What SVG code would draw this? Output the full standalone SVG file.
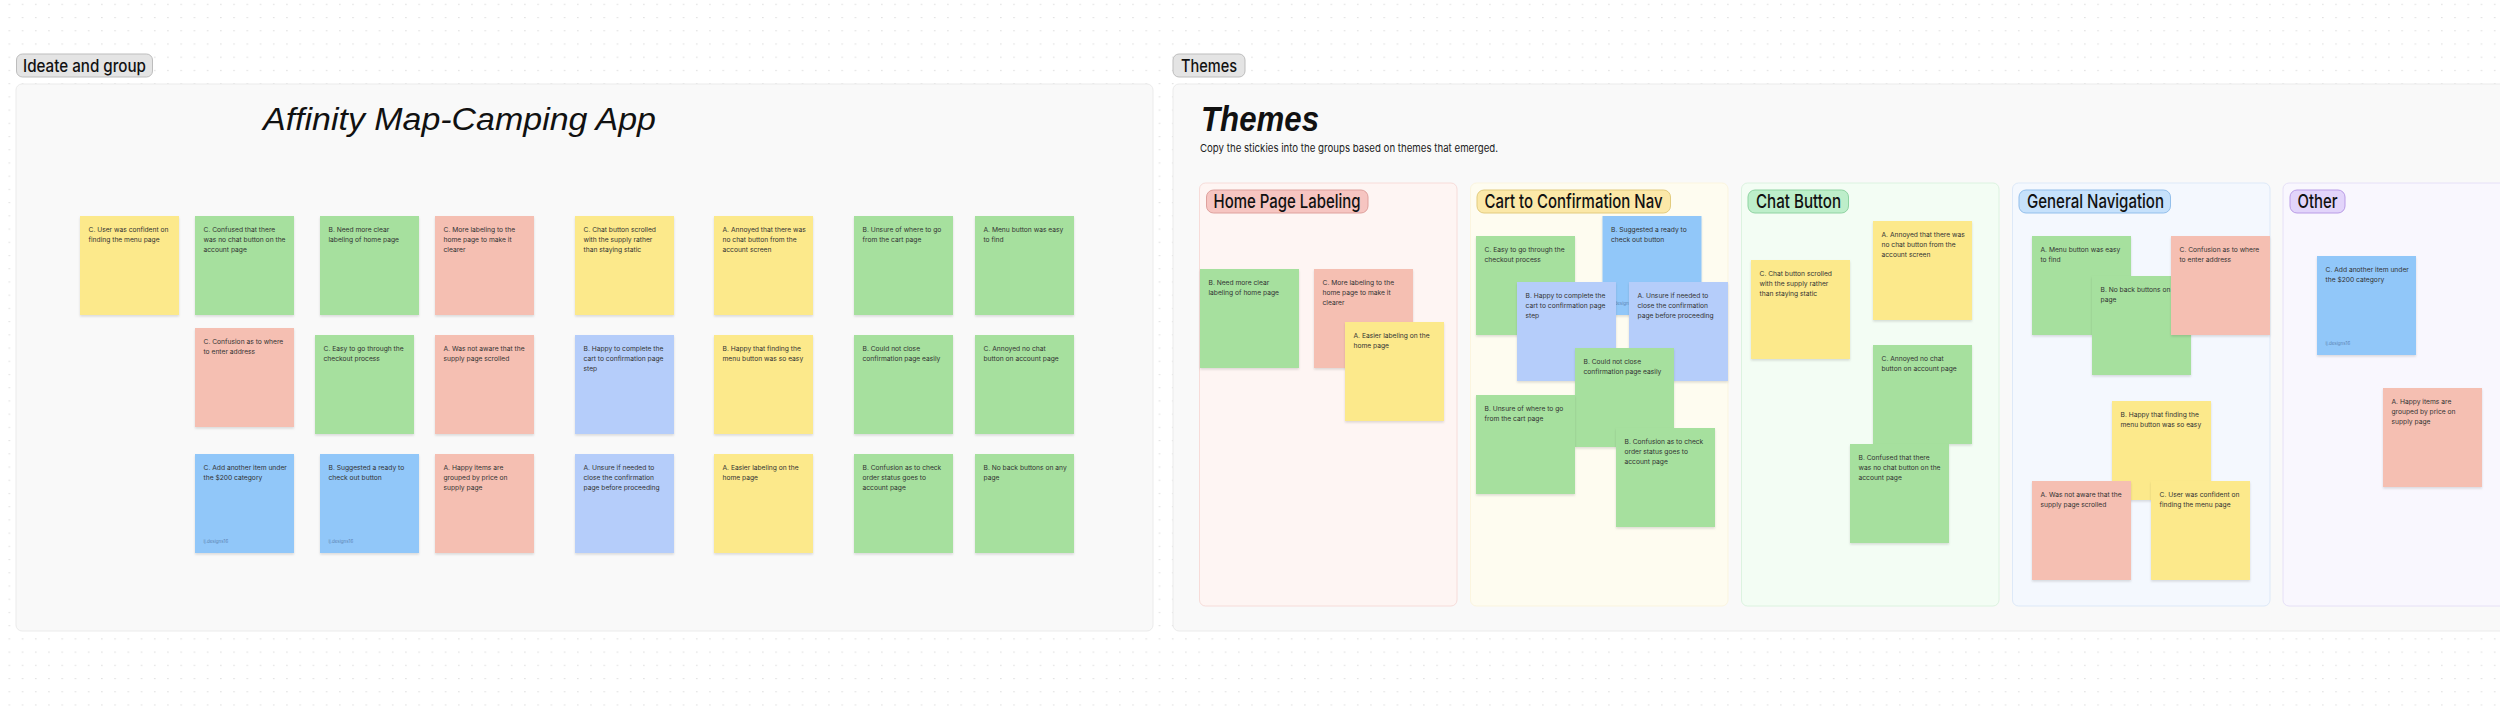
<svg xmlns="http://www.w3.org/2000/svg" width="2500" height="706" viewBox="0 0 2500 706">
<defs>
<pattern id="dots" width="13.22" height="13.22" patternUnits="userSpaceOnUse"><rect x="8.8" y="3.8" width="1.1" height="1.1" fill="#d2d2d2"/></pattern>
<filter id="sh" x="-10%" y="-10%" width="130%" height="130%"><feDropShadow dx="0" dy="1.5" stdDeviation="1.2" flood-color="#000" flood-opacity="0.13"/></filter>
<style>
.s{filter:url(#sh)}
.y{fill:#fce98b}.g{fill:#a6e09e}.r{fill:#f5bfb2}.b{fill:#91c7f9}.lb{fill:#b5cdfa}
.t{font-family:Inter,"Noto Sans",sans-serif;font-size:6.7px;fill:#333333}
.sig{font-family:Inter,"Noto Sans",sans-serif;font-size:4.5px;fill:#5d84b3}
.frame{fill:#f9f9f9;stroke:#ebebeb;stroke-width:1}
.tag{fill:#e4e4e4;stroke:#bdbdbd;stroke-width:1}
.tagt{font-family:Inter,"Noto Sans",sans-serif;font-size:17px;font-weight:500;fill:#111}
.lbl{font-family:Inter,"Noto Sans",sans-serif;font-size:19px;font-weight:500;fill:#111}
.hand{font-family:"Liberation Sans",sans-serif;font-style:italic;fill:#111}
.sub{font-family:Inter,"Noto Sans",sans-serif;font-size:11px;fill:#222}
</style>
</defs>
<rect width="2500" height="706" fill="#ffffff"/>
<rect width="2500" height="706" fill="url(#dots)"/>

<g id="section-ideate">
<rect class="tag" x="16.5" y="54" width="136" height="23" rx="6"/>
<text class="tagt" x="23" y="72" textLength="123" lengthAdjust="spacingAndGlyphs">Ideate and group</text>
<rect class="frame" x="16" y="84" width="1137" height="547" rx="6"/>
<text class="hand" x="263" y="130" font-size="31" textLength="393" lengthAdjust="spacingAndGlyphs">Affinity Map-Camping App</text>
</g>

<g id="section-themes">
<rect class="tag" x="1173" y="54" width="72" height="23" rx="6"/>
<text class="tagt" x="1181" y="71.5" textLength="56" lengthAdjust="spacingAndGlyphs">Themes</text>
<rect class="frame" x="1173" y="84" width="1360" height="547" rx="6"/>
<text class="hand" x="1201" y="131" font-size="35" font-weight="bold" textLength="118" lengthAdjust="spacingAndGlyphs">Themes</text>
<text class="sub" x="1200" y="152" textLength="298" lengthAdjust="spacingAndGlyphs">Copy the stickies into the groups based on themes that emerged.</text>
</g>

<g id="col-home">
<rect x="1199.5" y="183" width="257.5" height="423" rx="6" fill="#fef5f3" stroke="#f7dcd9"/>
<rect x="1206.5" y="190" width="161.5" height="23" rx="7" fill="#f6c5c1" stroke="#dea19d"/>
<text class="lbl" x="1213.5" y="208" textLength="147" lengthAdjust="spacingAndGlyphs">Home Page Labeling</text>
</g>
<g id="col-cart">
<rect x="1470.5" y="183" width="257.5" height="423" rx="6" fill="#fefcf0" stroke="#fbf5df"/>
<rect x="1477" y="190" width="193.5" height="23" rx="7" fill="#fbe8a8" stroke="#e2cb7e"/>
<text class="lbl" x="1484.5" y="208" textLength="178" lengthAdjust="spacingAndGlyphs">Cart to Confirmation Nav</text>
</g>
<g id="col-chat">
<rect x="1741.5" y="183" width="257.5" height="423" rx="6" fill="#f3fdf4" stroke="#dcf3e0"/>
<rect x="1748" y="190" width="100.5" height="23" rx="7" fill="#bdeeca" stroke="#8fd3a2"/>
<text class="lbl" x="1756" y="208" textLength="85" lengthAdjust="spacingAndGlyphs">Chat Button</text>
</g>
<g id="col-nav">
<rect x="2012.5" y="183" width="257.5" height="423" rx="6" fill="#f4f8fe" stroke="#dde9f8"/>
<rect x="2019" y="190" width="151.5" height="23" rx="7" fill="#c6e1fb" stroke="#93bfeb"/>
<text class="lbl" x="2027" y="208" textLength="137" lengthAdjust="spacingAndGlyphs">General Navigation</text>
</g>
<g id="col-other">
<rect x="2283" y="183" width="260" height="423" rx="6" fill="#f9f7fe" stroke="#e6e0f7"/>
<rect x="2290" y="190" width="55" height="23" rx="7" fill="#e2d4fa" stroke="#b99ce6"/>
<text class="lbl" x="2297.5" y="208" textLength="40" lengthAdjust="spacingAndGlyphs">Other</text>
</g>

<!-- Ideate stickies -->
<g id="L01" transform="translate(80 216)"><rect class="s y" width="99" height="99"/><text class="t"><tspan x="8.5" y="15.5">C. User was confident on</tspan><tspan x="8.5" y="25.5">finding the menu page</tspan></text></g>
<g id="L02" transform="translate(195 216)"><rect class="s g" width="99" height="99"/><text class="t"><tspan x="8.5" y="15.5">C. Confused that there</tspan><tspan x="8.5" y="25.5">was no chat button on the</tspan><tspan x="8.5" y="35.5">account page</tspan></text></g>
<g id="L03" transform="translate(320 216)"><rect class="s g" width="99" height="99"/><text class="t"><tspan x="8.5" y="15.5">B. Need more clear</tspan><tspan x="8.5" y="25.5">labeling of home page</tspan></text></g>
<g id="L04" transform="translate(435 216)"><rect class="s r" width="99" height="99"/><text class="t"><tspan x="8.5" y="15.5">C. More labeling to the</tspan><tspan x="8.5" y="25.5">home page to make it</tspan><tspan x="8.5" y="35.5">clearer</tspan></text></g>
<g id="L05" transform="translate(195 328)"><rect class="s r" width="99" height="99"/><text class="t"><tspan x="8.5" y="15.5">C. Confusion as to where</tspan><tspan x="8.5" y="25.5">to enter address</tspan></text></g>
<g id="L06" transform="translate(315 335)"><rect class="s g" width="99" height="99"/><text class="t"><tspan x="8.5" y="15.5">C. Easy to go through the</tspan><tspan x="8.5" y="25.5">checkout process</tspan></text></g>
<g id="L07" transform="translate(435 335)"><rect class="s r" width="99" height="99"/><text class="t"><tspan x="8.5" y="15.5">A. Was not aware that the</tspan><tspan x="8.5" y="25.5">supply page scrolled</tspan></text></g>
<g id="L08" transform="translate(195 454)"><rect class="s b" width="99" height="99"/><text class="t"><tspan x="8.5" y="15.5">C. Add another item under</tspan><tspan x="8.5" y="25.5">the $200 category</tspan></text><text class="sig" x="8.5" y="89">ij.designs16</text></g>
<g id="L09" transform="translate(320 454)"><rect class="s b" width="99" height="99"/><text class="t"><tspan x="8.5" y="15.5">B. Suggested a ready to</tspan><tspan x="8.5" y="25.5">check out button</tspan></text><text class="sig" x="8.5" y="89">ij.designs16</text></g>
<g id="L10" transform="translate(435 454)"><rect class="s r" width="99" height="99"/><text class="t"><tspan x="8.5" y="15.5">A. Happy items are</tspan><tspan x="8.5" y="25.5">grouped by price on</tspan><tspan x="8.5" y="35.5">supply page</tspan></text></g>
<g id="L11" transform="translate(575 216)"><rect class="s y" width="99" height="99"/><text class="t"><tspan x="8.5" y="15.5">C. Chat button scrolled</tspan><tspan x="8.5" y="25.5">with the supply rather</tspan><tspan x="8.5" y="35.5">than staying static</tspan></text></g>
<g id="L12" transform="translate(575 335)"><rect class="s lb" width="99" height="99"/><text class="t"><tspan x="8.5" y="15.5">B. Happy to complete the</tspan><tspan x="8.5" y="25.5">cart to confirmation page</tspan><tspan x="8.5" y="35.5">step</tspan></text></g>
<g id="L13" transform="translate(575 454)"><rect class="s lb" width="99" height="99"/><text class="t"><tspan x="8.5" y="15.5">A. Unsure if needed to</tspan><tspan x="8.5" y="25.5">close the confirmation</tspan><tspan x="8.5" y="35.5">page before proceeding</tspan></text></g>
<g id="L14" transform="translate(714 216)"><rect class="s y" width="99" height="99"/><text class="t"><tspan x="8.5" y="15.5">A. Annoyed that there was</tspan><tspan x="8.5" y="25.5">no chat button from the</tspan><tspan x="8.5" y="35.5">account screen</tspan></text></g>
<g id="L15" transform="translate(714 335)"><rect class="s y" width="99" height="99"/><text class="t"><tspan x="8.5" y="15.5">B. Happy that finding the</tspan><tspan x="8.5" y="25.5">menu button was so easy</tspan></text></g>
<g id="L16" transform="translate(714 454)"><rect class="s y" width="99" height="99"/><text class="t"><tspan x="8.5" y="15.5">A. Easier labeling on the</tspan><tspan x="8.5" y="25.5">home page</tspan></text></g>
<g id="L17" transform="translate(854 216)"><rect class="s g" width="99" height="99"/><text class="t"><tspan x="8.5" y="15.5">B. Unsure of where to go</tspan><tspan x="8.5" y="25.5">from the cart page</tspan></text></g>
<g id="L18" transform="translate(854 335)"><rect class="s g" width="99" height="99"/><text class="t"><tspan x="8.5" y="15.5">B. Could not close</tspan><tspan x="8.5" y="25.5">confirmation page easily</tspan></text></g>
<g id="L19" transform="translate(854 454)"><rect class="s g" width="99" height="99"/><text class="t"><tspan x="8.5" y="15.5">B. Confusion as to check</tspan><tspan x="8.5" y="25.5">order status goes to</tspan><tspan x="8.5" y="35.5">account page</tspan></text></g>
<g id="L20" transform="translate(975 216)"><rect class="s g" width="99" height="99"/><text class="t"><tspan x="8.5" y="15.5">A. Menu button was easy</tspan><tspan x="8.5" y="25.5">to find</tspan></text></g>
<g id="L21" transform="translate(975 335)"><rect class="s g" width="99" height="99"/><text class="t"><tspan x="8.5" y="15.5">C. Annoyed no chat</tspan><tspan x="8.5" y="25.5">button on account page</tspan></text></g>
<g id="L22" transform="translate(975 454)"><rect class="s g" width="99" height="99"/><text class="t"><tspan x="8.5" y="15.5">B. No back buttons on any</tspan><tspan x="8.5" y="25.5">page</tspan></text></g>

<!-- Home Page Labeling -->
<g id="H1" transform="translate(1200 269)"><rect class="s g" width="99" height="99"/><text class="t"><tspan x="8.5" y="15.5">B. Need more clear</tspan><tspan x="8.5" y="25.5">labeling of home page</tspan></text></g>
<g id="H2" transform="translate(1314 269)"><rect class="s r" width="99" height="99"/><text class="t"><tspan x="8.5" y="15.5">C. More labeling to the</tspan><tspan x="8.5" y="25.5">home page to make it</tspan><tspan x="8.5" y="35.5">clearer</tspan></text></g>
<g id="H3" transform="translate(1345 322)"><rect class="s y" width="99" height="99"/><text class="t"><tspan x="8.5" y="15.5">A. Easier labeling on the</tspan><tspan x="8.5" y="25.5">home page</tspan></text></g>

<!-- Cart to Confirmation Nav -->
<g id="C1" transform="translate(1476 236)"><rect class="s g" width="99" height="99"/><text class="t"><tspan x="8.5" y="15.5">C. Easy to go through the</tspan><tspan x="8.5" y="25.5">checkout process</tspan></text></g>
<g id="C2" transform="translate(1602.5 216)"><rect class="s b" width="99" height="99"/><text class="t"><tspan x="8.5" y="15.5">B. Suggested a ready to</tspan><tspan x="8.5" y="25.5">check out button</tspan></text><text class="sig" x="8.5" y="89">ij.designs16</text></g>
<g id="C3" transform="translate(1517 282)"><rect class="s lb" width="99" height="99"/><text class="t"><tspan x="8.5" y="15.5">B. Happy to complete the</tspan><tspan x="8.5" y="25.5">cart to confirmation page</tspan><tspan x="8.5" y="35.5">step</tspan></text></g>
<g id="C4" transform="translate(1629 282)"><rect class="s lb" width="99" height="99"/><text class="t"><tspan x="8.5" y="15.5">A. Unsure if needed to</tspan><tspan x="8.5" y="25.5">close the confirmation</tspan><tspan x="8.5" y="35.5">page before proceeding</tspan></text></g>
<g id="C5" transform="translate(1575 348)"><rect class="s g" width="99" height="99"/><text class="t"><tspan x="8.5" y="15.5">B. Could not close</tspan><tspan x="8.5" y="25.5">confirmation page easily</tspan></text></g>
<g id="C6" transform="translate(1476 395)"><rect class="s g" width="99" height="99"/><text class="t"><tspan x="8.5" y="15.5">B. Unsure of where to go</tspan><tspan x="8.5" y="25.5">from the cart page</tspan></text></g>
<g id="C7" transform="translate(1616 428)"><rect class="s g" width="99" height="99"/><text class="t"><tspan x="8.5" y="15.5">B. Confusion as to check</tspan><tspan x="8.5" y="25.5">order status goes to</tspan><tspan x="8.5" y="35.5">account page</tspan></text></g>

<!-- Chat Button -->
<g id="B1" transform="translate(1751 260)"><rect class="s y" width="99" height="99"/><text class="t"><tspan x="8.5" y="15.5">C. Chat button scrolled</tspan><tspan x="8.5" y="25.5">with the supply rather</tspan><tspan x="8.5" y="35.5">than staying static</tspan></text></g>
<g id="B2" transform="translate(1873 221)"><rect class="s y" width="99" height="99"/><text class="t"><tspan x="8.5" y="15.5">A. Annoyed that there was</tspan><tspan x="8.5" y="25.5">no chat button from the</tspan><tspan x="8.5" y="35.5">account screen</tspan></text></g>
<g id="B3" transform="translate(1873 345)"><rect class="s g" width="99" height="99"/><text class="t"><tspan x="8.5" y="15.5">C. Annoyed no chat</tspan><tspan x="8.5" y="25.5">button on account page</tspan></text></g>
<g id="B4" transform="translate(1850 444)"><rect class="s g" width="99" height="99"/><text class="t"><tspan x="8.5" y="15.5">B. Confused that there</tspan><tspan x="8.5" y="25.5">was no chat button on the</tspan><tspan x="8.5" y="35.5">account page</tspan></text></g>

<!-- General Navigation -->
<g id="N1" transform="translate(2032 236)"><rect class="s g" width="99" height="99"/><text class="t"><tspan x="8.5" y="15.5">A. Menu button was easy</tspan><tspan x="8.5" y="25.5">to find</tspan></text></g>
<g id="N2" transform="translate(2092 276)"><rect class="s g" width="99" height="99"/><text class="t"><tspan x="8.5" y="15.5">B. No back buttons on any</tspan><tspan x="8.5" y="25.5">page</tspan></text></g>
<g id="N3" transform="translate(2171 236)"><rect class="s r" width="99" height="99"/><text class="t"><tspan x="8.5" y="15.5">C. Confusion as to where</tspan><tspan x="8.5" y="25.5">to enter address</tspan></text></g>
<g id="N4" transform="translate(2112 401)"><rect class="s y" width="99" height="99"/><text class="t"><tspan x="8.5" y="15.5">B. Happy that finding the</tspan><tspan x="8.5" y="25.5">menu button was so easy</tspan></text></g>
<g id="N5" transform="translate(2032 481)"><rect class="s r" width="99" height="99"/><text class="t"><tspan x="8.5" y="15.5">A. Was not aware that the</tspan><tspan x="8.5" y="25.5">supply page scrolled</tspan></text></g>
<g id="N6" transform="translate(2151 481)"><rect class="s y" width="99" height="99"/><text class="t"><tspan x="8.5" y="15.5">C. User was confident on</tspan><tspan x="8.5" y="25.5">finding the menu page</tspan></text></g>

<!-- Other -->
<g id="O1" transform="translate(2317 256)"><rect class="s b" width="99" height="99"/><text class="t"><tspan x="8.5" y="15.5">C. Add another item under</tspan><tspan x="8.5" y="25.5">the $200 category</tspan></text><text class="sig" x="8.5" y="89">ij.designs16</text></g>
<g id="O2" transform="translate(2383 388)"><rect class="s r" width="99" height="99"/><text class="t"><tspan x="8.5" y="15.5">A. Happy items are</tspan><tspan x="8.5" y="25.5">grouped by price on</tspan><tspan x="8.5" y="35.5">supply page</tspan></text></g>

<g id="connectors"></g>
</svg>
